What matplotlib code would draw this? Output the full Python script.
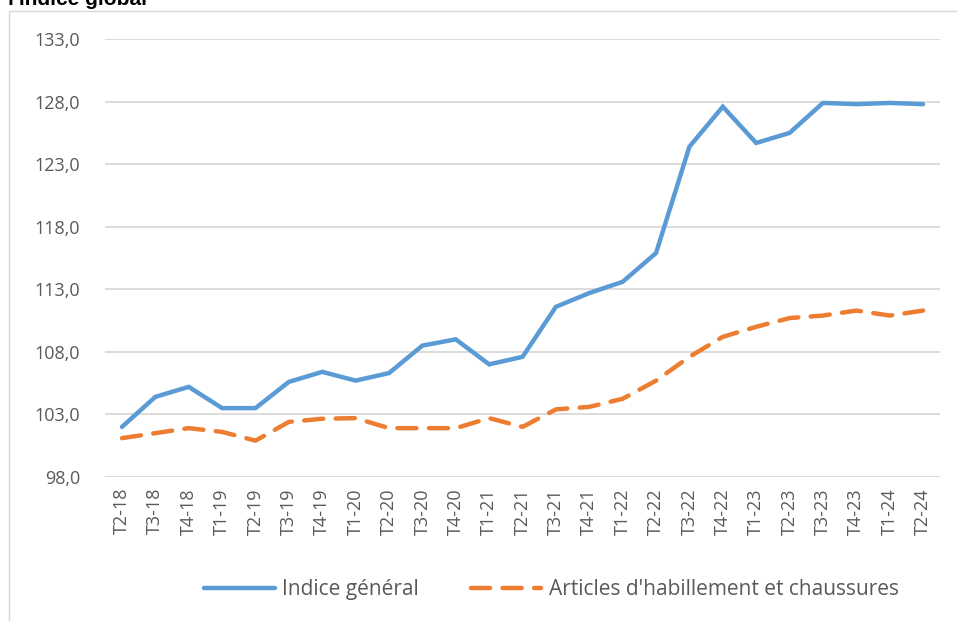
import matplotlib.pyplot as plt
from matplotlib.patches import Rectangle
from matplotlib.ticker import FuncFormatter

plt.rcParams['font.family'] = ['Open Sans', 'DejaVu Sans']

quarters = ['T2-18', 'T3-18', 'T4-18', 'T1-19', 'T2-19', 'T3-19', 'T4-19',
            'T1-20', 'T2-20', 'T3-20', 'T4-20', 'T1-21', 'T2-21', 'T3-21',
            'T4-21', 'T1-22', 'T2-22', 'T3-22', 'T4-22', 'T1-23', 'T2-23',
            'T3-23', 'T4-23', 'T1-24', 'T2-24']
indice_general = [102.0, 104.4, 105.2, 103.5, 103.5, 105.6, 106.4, 105.7,
                  106.3, 108.5, 109.0, 107.0, 107.6, 111.6, 112.7, 113.6,
                  115.9, 124.4, 127.6, 124.7, 125.5, 127.9, 127.8, 127.9, 127.8]
habillement = [101.1, 101.5, 101.9, 101.6, 100.9, 102.4, 102.65, 102.7,
               101.9, 101.9, 101.9, 102.7, 102.0, 103.4, 103.6, 104.25,
               105.7, 107.6, 109.2, 110.0, 110.7, 110.9, 111.3, 110.9, 111.3]
y_ticks = [98, 103, 108, 113, 118, 123, 128, 133]

fig = plt.figure(figsize=(9.57, 6.21), dpi=100)
ax = fig.add_axes([0.110, 0.232, 0.872, 0.705])

x = range(len(quarters))
ax.plot(x, indice_general, color='#5B9BD5', lw=3.2, solid_capstyle='round',
        solid_joinstyle='miter', label='Indice général')
ax.plot(x, habillement, color='#ED7D31', lw=3.2, dashes=(4.3, 2.8),
        dash_capstyle='round', label="Articles d'habillement et chaussures")

ax.set_ylim(98, 133)
ax.set_xlim(-0.5, len(quarters) - 0.5)
ax.set_yticks(y_ticks)
ax.yaxis.set_major_formatter(FuncFormatter(lambda v, p: f'{v:.1f}'.replace('.', ',')))
ax.set_xticks(list(x))
ax.set_xticklabels(quarters, rotation=90)
ax.grid(axis='y', color='#D9D9D9', lw=1.3)
ax.set_axisbelow(True)
for s in ax.spines.values():
    s.set_visible(False)
ax.tick_params(axis='both', length=0, colors='#595959', labelsize=13)
ax.tick_params(axis='y', pad=18)
ax.tick_params(axis='x', pad=8)

fig.legend(loc='center', bbox_to_anchor=(0.576, 0.05), ncol=2, frameon=False,
           fontsize=15, handlelength=3.4, columnspacing=2.5, handletextpad=0.35,
           labelcolor='#595959')

fig.patches.append(Rectangle((0.009, -0.01), 1.0, 0.993, transform=fig.transFigure,
                             fill=False, edgecolor='#D9D9D9', lw=1.0))
fig.text(0.008, 0.992, "l'indice global", fontsize=15, fontweight='bold',
         va='baseline', ha='left', family=['Liberation Sans', 'DejaVu Sans'])

fig.savefig('out.png', dpi=100)
